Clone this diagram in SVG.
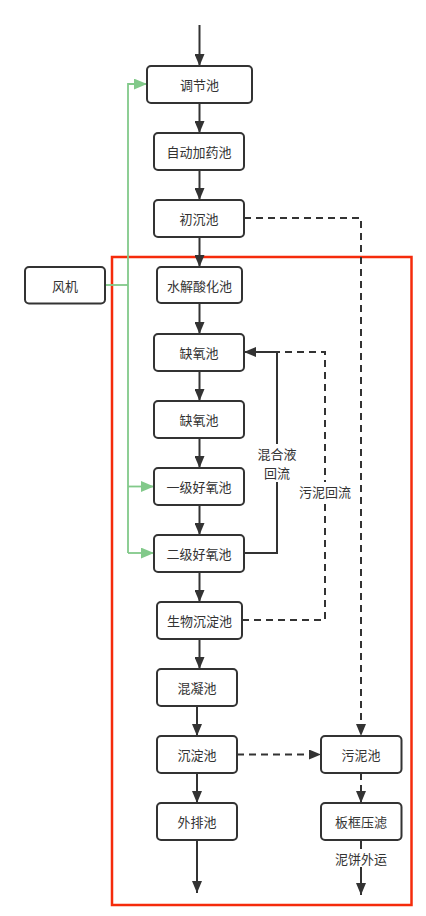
<svg xmlns="http://www.w3.org/2000/svg" width="426" height="916" viewBox="0 0 426 916">
<style>
.box{fill:#fff;stroke:#333;stroke-width:2}
.t{font-family:"Noto Sans CJK SC","Noto Sans",sans-serif;font-size:13px;fill:#333;text-anchor:middle;dominant-baseline:central}
.e{fill:none;stroke:#333;stroke-width:2}
.d{fill:none;stroke:#333;stroke-width:2;stroke-dasharray:7 5}
.g{fill:none;stroke:#82C98A;stroke-width:1.8}
.lb{fill:#fff}
</style>
<defs>
<marker id="a" viewBox="0 0 12 10" refX="12" refY="5" markerWidth="12" markerHeight="10" markerUnits="userSpaceOnUse" orient="auto"><path d="M0,0L12,5L0,10z" fill="#333"/></marker>
<marker id="ag" viewBox="0 0 12 10" refX="12" refY="5" markerWidth="13" markerHeight="11" markerUnits="userSpaceOnUse" orient="auto"><path d="M0,0L12,5L0,10z" fill="#82C98A"/></marker>
</defs>
<rect x="112" y="257" width="299.5" height="648" fill="none" stroke="#F52B0B" stroke-width="2.5"/>
<g id="connectors">
<path class="e" d="M199.5,25V66" marker-end="url(#a)"/>
<path class="e" d="M199.5,103V133" marker-end="url(#a)"/>
<path class="e" d="M199.5,170V200" marker-end="url(#a)"/>
<path class="e" d="M199.5,237V267" marker-end="url(#a)"/>
<path class="e" d="M199.5,303V334" marker-end="url(#a)"/>
<path class="e" d="M199.5,371V401" marker-end="url(#a)"/>
<path class="e" d="M199.5,438V468" marker-end="url(#a)"/>
<path class="e" d="M199.5,505V535" marker-end="url(#a)"/>
<path class="e" d="M199.5,572V602" marker-end="url(#a)"/>
<path class="e" d="M199.5,639V669" marker-end="url(#a)"/>
<path class="e" d="M197,706V736" marker-end="url(#a)"/>
<path class="e" d="M197,773V803" marker-end="url(#a)"/>
<path class="e" d="M197,840V893" marker-end="url(#a)"/>
<path class="d" d="M242,620H325V352H277"/>
<path class="e" d="M244,553H277V352H244" marker-end="url(#a)"/>
<path class="d" d="M244,218H361V736" marker-end="url(#a)"/>
<path class="d" d="M237,754.5H321" marker-end="url(#a)"/>
<path class="d" d="M361,773V803" marker-end="url(#a)"/>
<path class="e" d="M361,840V895" marker-end="url(#a)"/>
<path class="g" d="M105,285H128"/>
<path class="g" d="M128,553V84H147" marker-end="url(#ag)"/>
<path class="g" d="M128,486.5H154" marker-end="url(#ag)"/>
<path class="g" d="M128,553H154" marker-end="url(#ag)"/>
<rect class="lb" x="257" y="444" width="40" height="38"/>
<text class="t" x="277" y="453.5">混合液</text>
<text class="t" x="277" y="472.5">回流</text>
<rect class="lb" x="298" y="482" width="54" height="18"/>
<text class="t" x="325" y="491">污泥回流</text>
<rect class="lb" x="334" y="849" width="54" height="18"/>
<text class="t" x="361" y="858">泥饼外运</text>
</g>
<g id="n1"><rect class="box" x="147" y="66" width="105" height="37" rx="4"/><text class="t" x="199.5" y="84.5">调节池</text></g>
<g id="n2"><rect class="box" x="154" y="133" width="90" height="37" rx="4"/><text class="t" x="199" y="151.5">自动加药池</text></g>
<g id="n3"><rect class="box" x="154" y="200" width="90" height="37" rx="4"/><text class="t" x="199" y="218.5">初沉池</text></g>
<g id="n4"><rect class="box" x="25" y="267" width="80" height="36.5" rx="4"/><text class="t" x="65" y="285">风机</text></g>
<g id="n5"><rect class="box" x="157" y="267" width="85" height="36" rx="4"/><text class="t" x="199.5" y="285">水解酸化池</text></g>
<g id="n6"><rect class="box" x="154" y="334" width="90" height="37" rx="4"/><text class="t" x="199" y="352.5">缺氧池</text></g>
<g id="n7"><rect class="box" x="154" y="401" width="90" height="37" rx="4"/><text class="t" x="199" y="419.5">缺氧池</text></g>
<g id="n8"><rect class="box" x="154" y="468" width="90" height="37" rx="4"/><text class="t" x="199" y="486.5">一级好氧池</text></g>
<g id="n9"><rect class="box" x="154" y="535" width="90" height="37" rx="4"/><text class="t" x="199" y="553.5">二级好氧池</text></g>
<g id="n10"><rect class="box" x="157" y="602" width="85" height="37" rx="4"/><text class="t" x="199.5" y="620.5">生物沉淀池</text></g>
<g id="n11"><rect class="box" x="157" y="669" width="80" height="37" rx="4"/><text class="t" x="197" y="687.5">混凝池</text></g>
<g id="n12"><rect class="box" x="157" y="736" width="80" height="37" rx="4"/><text class="t" x="197" y="754.5">沉淀池</text></g>
<g id="n13"><rect class="box" x="157" y="803" width="80" height="37" rx="4"/><text class="t" x="197" y="821.5">外排池</text></g>
<g id="n14"><rect class="box" x="321" y="736" width="80.5" height="37" rx="4"/><text class="t" x="361" y="754.5">污泥池</text></g>
<g id="n15"><rect class="box" x="321" y="803" width="80.5" height="37" rx="4"/><text class="t" x="361" y="821.5">板框压滤</text></g>
</svg>
